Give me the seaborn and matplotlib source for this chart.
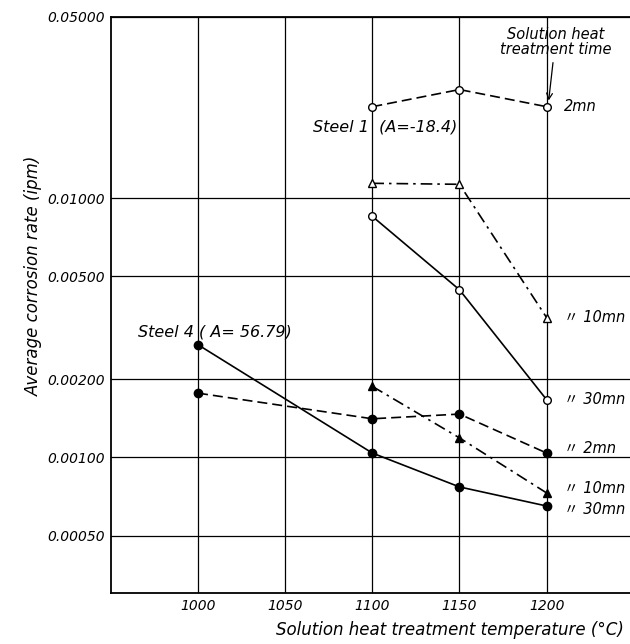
import matplotlib
matplotlib.use("Agg")
import matplotlib.pyplot as plt
import seaborn as sns
import pandas as pd

# values
temps_s1 = [1100, 1150, 1200]
s1_2mn = [0.0225, 0.0262, 0.0225]
s1_10mn = [0.0114, 0.0113, 0.00346]
s1_30mn = [0.0085, 0.00443, 0.00167]

temps_s4_2 = [1000, 1100, 1150, 1200]
s4_2mn = [0.00177, 0.00141, 0.00147, 0.00104]
temps_s4_10 = [1100, 1150, 1200]
s4_10mn = [0.00188, 0.00119, 0.00073]
temps_s4_30 = [1000, 1100, 1150, 1200]
s4_30mn = [0.00272, 0.00104, 0.00077, 0.00065]

x_ticks = [1000, 1050, 1100, 1150, 1200]
y_ticks = [0.0005, 0.001, 0.002, 0.005, 0.01, 0.05]
y_tick_labels = ["0.00050", "0.00100", "0.00200", "0.00500", "0.01000", "0.05000"]

sns.set_theme(style="white")
plt.rcParams['font.family'] = ['DejaVu Sans', 'Noto Sans CJK JP']
plt.rcParams['text.color'] = 'black'
plt.rcParams['axes.labelcolor'] = 'black'
plt.rcParams['xtick.color'] = 'black'
plt.rcParams['ytick.color'] = 'black'

fig = plt.figure(figsize=(6.3, 6.44), dpi=100)
ax = fig.add_axes([0.176, 0.079, 0.83, 0.895])

def draw(xs, ys, ls, marker, filled):
    df = pd.DataFrame({"t": xs, "r": ys})
    sns.lineplot(data=df, x="t", y="r", ax=ax, color="black", linestyle=ls,
                 linewidth=1.2, marker=marker, markersize=6 if filled else 5.5,
                 markerfacecolor="black" if filled else "white",
                 markeredgecolor="black", markeredgewidth=1.0)

dashed = (0, (6, 3))
dashdot = (0, (7, 3, 1.5, 3))

draw(temps_s1, s1_2mn, dashed, "o", False)
draw(temps_s1, s1_10mn, dashdot, "^", False)
draw(temps_s1, s1_30mn, "-", "o", False)
draw(temps_s4_2, s4_2mn, dashed, "o", True)
draw(temps_s4_10, s4_10mn, dashdot, "^", True)
draw(temps_s4_30, s4_30mn, "-", "o", True)

ax.set_yscale("log")
ax.set_xlim(950, 1250)
ax.set_ylim(0.0003, 0.05)
ax.set_xticks(x_ticks)
ax.set_xticklabels([str(t) for t in x_ticks], style="italic", fontsize=10)
ax.set_yticks(y_ticks)
ax.set_yticklabels(y_tick_labels, style="italic", fontsize=10)
ax.minorticks_off()
ax.tick_params(length=0, pad=4)
ax.grid(True, color="black", linewidth=0.9)

for side in ["left", "top", "bottom"]:
    ax.spines[side].set_color("black")
    ax.spines[side].set_linewidth(1.3)
ax.spines["right"].set_visible(False)

ax.set_xlabel("")
fig.text(0.99, 0.022, "Solution heat treatment temperature (°C)", style="italic",
         fontsize=12, ha="right", va="center")
ax.set_ylabel("Average corrosion rate (ipm)", style="italic", fontsize=12)
ax.yaxis.set_label_coords(-0.13, 0.55)

ax.text(1149, 0.0188, "Steel 1  (A=-18.4)", style="italic", fontsize=11.5,
        ha="right", va="center")
ax.text(1054, 0.00305, "Steel 4 ( A= 56.79)", style="italic", fontsize=11.5,
        ha="right", va="center")

ax.annotate("Solution heat\ntreatment time", xy=(1201, 0.0232), xytext=(1205, 0.040),
            ha="center", va="center", style="italic", fontsize=10.5, linespacing=0.95,
            arrowprops=dict(arrowstyle="->", color="black", lw=0.9, shrinkA=2, shrinkB=2))

side_labels = [
    (s1_2mn[-1], "2mn"),
    (s1_10mn[-1], "〃 10mn"),
    (s1_30mn[-1], "〃 30mn"),
    (s4_2mn[-1] * 1.04, "〃 2mn"),
    (s4_10mn[-1] * 1.04, "〃 10mn"),
    (s4_30mn[-1] * 0.97, "〃 30mn"),
]
for yv, lab in side_labels:
    ax.text(1210, yv, lab, style="italic", fontsize=10.5, ha="left", va="center")

fig.savefig("out.png", dpi=100)
